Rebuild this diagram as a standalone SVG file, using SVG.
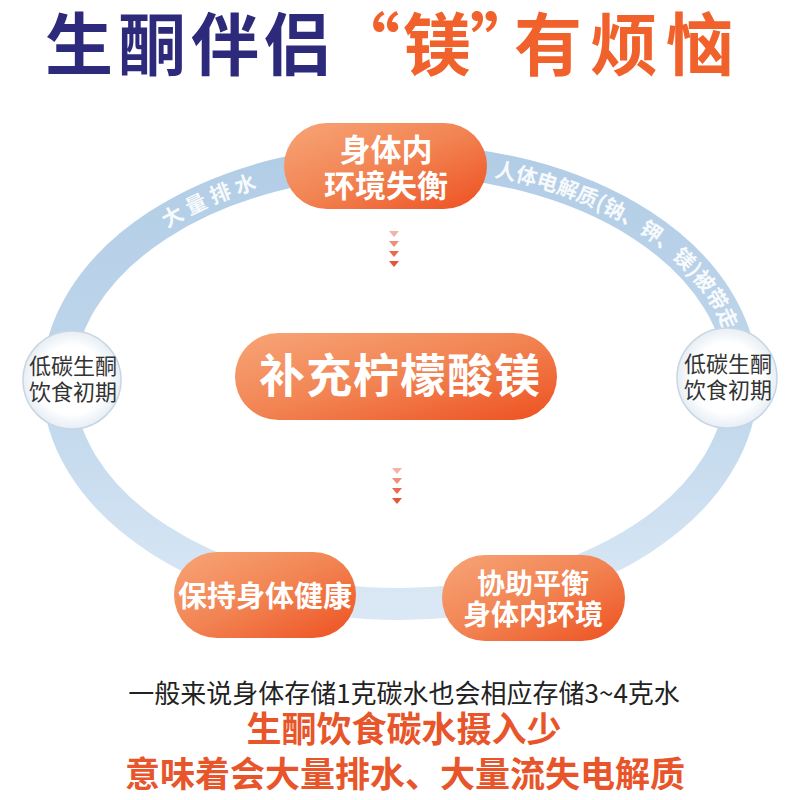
<svg xmlns="http://www.w3.org/2000/svg" width="800" height="800" viewBox="0 0 800 800">
<defs>
<linearGradient id="pill" x1="0" y1="0" x2="1" y2="1">
<stop offset="0" stop-color="#f7a577"/>
<stop offset="0.5" stop-color="#f28352"/>
<stop offset="1" stop-color="#ee5020"/>
</linearGradient>
<linearGradient id="band" x1="0" y1="0" x2="0" y2="1">
<stop offset="0" stop-color="#b2cde6"/>
<stop offset="0.6" stop-color="#c3d9ed"/>
<stop offset="1" stop-color="#dae8f5"/>
</linearGradient>
<radialGradient id="disc" cx="0.5" cy="0.5" r="0.5">
<stop offset="0.7" stop-color="#ffffff"/>
<stop offset="1" stop-color="#e6eef5"/>
</radialGradient>
<path id="ringText" d="M 66 382 A 334 214 0 0 1 734 382 A 334 214 0 0 1 66 382"/>
<path id="tri" d="M -5 -3 L 5 -3 L 0 3 Z"/>
</defs>
<style>
.cjk{font-family:"Noto Sans CJK SC","Noto Sans",sans-serif}
.pt{fill:#ffffff;font-weight:700;text-anchor:middle}
.ct{fill:#333333;font-size:22px;text-anchor:middle}
.rt{fill:#ffffff;font-size:21px;font-weight:700;opacity:0.9}
.pill{fill:url(#pill)}
.disc{fill:url(#disc);stroke:#c9d6e2;stroke-width:1.5}
</style>
<rect width="800" height="800" fill="#ffffff"/>

<g id="title" class="cjk" font-weight="700" font-size="68">
<text x="45" y="70" fill="#2d2a7b" letter-spacing="5">生酮伴侣</text>
<text y="70" fill="#f0612b"><tspan x="332">“</tspan><tspan x="403">镁</tspan><tspan x="470">”</tspan><tspan x="514" letter-spacing="8">有烦恼</tspan></text>
</g>

<g id="connectors">
<ellipse cx="400" cy="382" rx="342" ry="222" fill="none" stroke="url(#band)" stroke-width="32"/>
<text class="cjk rt" letter-spacing="5"><textPath href="#ringText" startOffset="192">大量排水</textPath></text>
<text class="cjk rt" letter-spacing="0"><textPath href="#ringText" startOffset="530">人体电解质(钠、钾、镁)被带走</textPath></text>
<g id="arrows1">
<use href="#tri" x="394" y="234" fill="#f3b3aa"/>
<use href="#tri" x="394" y="244" fill="#ef8f7a"/>
<use href="#tri" x="394" y="254" fill="#ea6a4c"/>
<use href="#tri" x="394" y="264" fill="#e5553a"/>
</g>
<g id="arrows2">
<use href="#tri" x="397" y="471" fill="#f3b3aa"/>
<use href="#tri" x="397" y="481" fill="#ef8f7a"/>
<use href="#tri" x="397" y="491" fill="#ea6a4c"/>
<use href="#tri" x="397" y="501" fill="#e5553a"/>
</g>
</g>

<g id="node-top">
<rect class="pill" x="284" y="123" width="203" height="86" rx="43"/>
<text class="cjk pt" x="386" y="161" font-size="31">身体内</text>
<text class="cjk pt" x="386" y="197" font-size="31">环境失衡</text>
</g>

<g id="node-center">
<rect class="pill" x="235" y="333" width="322" height="87" rx="43.5"/>
<text class="cjk pt" x="400" y="392" font-size="46" letter-spacing="1">补充柠檬酸镁</text>
</g>

<g id="node-left">
<circle class="disc" cx="72" cy="380" r="49"/>
<text class="cjk ct" x="73" y="374">低碳生酮</text>
<text class="cjk ct" x="73" y="400">饮食初期</text>
</g>

<g id="node-right">
<circle class="disc" cx="727" cy="378" r="50"/>
<text class="cjk ct" x="728" y="372">低碳生酮</text>
<text class="cjk ct" x="728" y="398">饮食初期</text>
</g>

<g id="node-bottom-left">
<rect class="pill" x="174" y="552" width="182" height="86" rx="43"/>
<text class="cjk pt" x="265" y="607" font-size="29">保持身体健康</text>
</g>

<g id="node-bottom-right">
<rect class="pill" x="442" y="555" width="183" height="86" rx="43"/>
<text class="cjk pt" x="533" y="594" font-size="28">协助平衡</text>
<text class="cjk pt" x="533" y="625" font-size="28">身体内环境</text>
</g>

<g id="footer" class="cjk" text-anchor="middle">
<text x="404" y="703" font-size="26" fill="#222222">一般来说身体存储1克碳水也会相应存储3~4克水</text>
<text x="404" y="742" font-size="35" fill="#e8552a" font-weight="700">生酮饮食碳水摄入少</text>
<text x="405" y="787" font-size="35" fill="#e8552a" font-weight="700">意味着会大量排水、大量流失电解质</text>
</g>
</svg>
